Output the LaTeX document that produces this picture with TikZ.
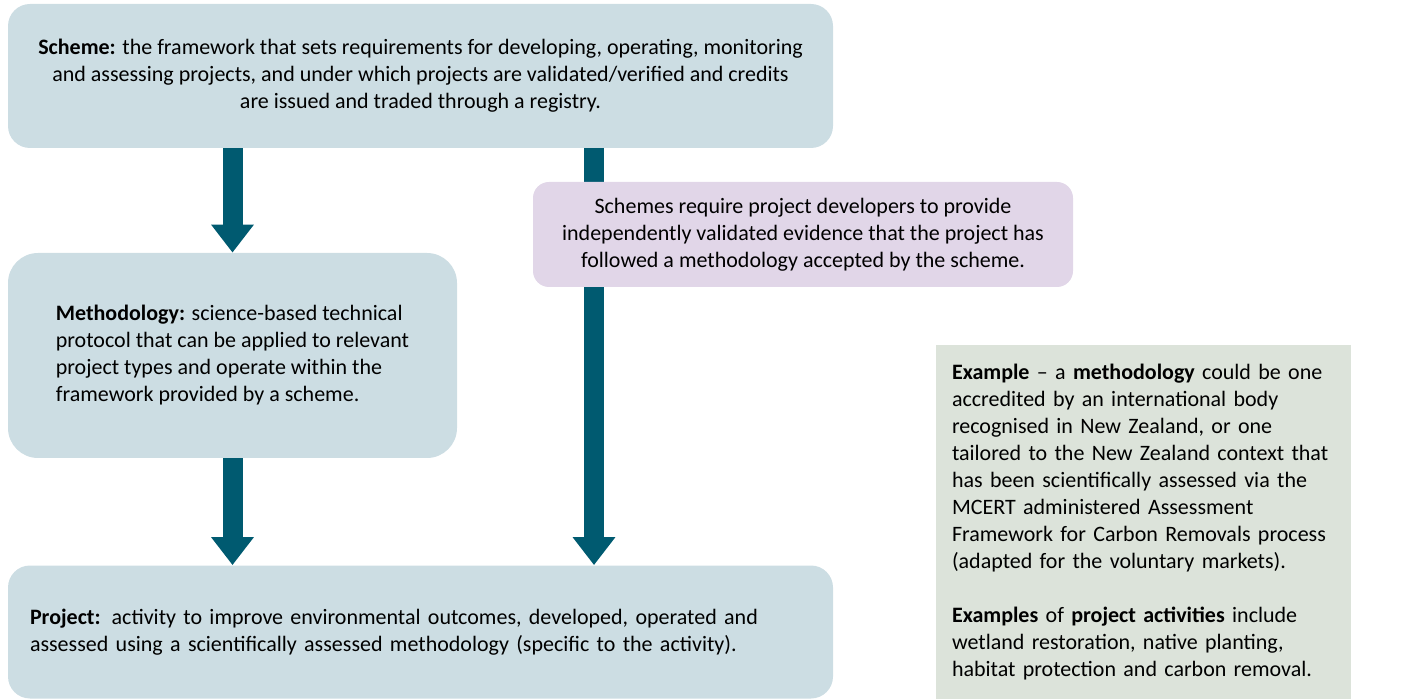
\documentclass[tikz,border=0pt]{standalone}
\usepackage{fontspec}
\setmainfont{Carlito}
\usetikzlibrary{positioning,arrows.meta}
\definecolor{boxblue}{HTML}{CCDDE3}
\definecolor{arrowteal}{HTML}{005A70}
\definecolor{notepurple}{HTML}{E1D6E8}
\definecolor{examplegreen}{HTML}{DCE3DA}

\begin{document}
\begin{tikzpicture}[x=0.5pt, y=-0.5pt,
    font=\fontsize{11pt}{13.5pt}\selectfont,
    box/.style={rectangle, rounded corners=11pt, fill=boxblue, inner sep=0pt, align=center},
    note/.style={rectangle, rounded corners=8pt, fill=notepurple, inner sep=0pt, align=center},
    flow/.style={draw=arrowteal, line width=10pt, -{Triangle[width=20.5pt,length=14pt]}}]
    \useasboundingbox (0,0) rectangle (1402,699);

    \node [box, minimum width=412.5pt, minimum height=72pt] (scheme) at (420.5,76)
      {\textbf{Scheme:} the framework that sets requirements for developing, operating, monitoring\\
       and assessing projects, and under which projects are validated/verified and credits\\
       are issued and traded through a registry.};
    \node [box, align=left, rounded corners=15pt, minimum width=224.5pt, minimum height=102.5pt] (method) at (232.5,355.5)
      {\textbf{Methodology:} science-based technical\\
       protocol that can be applied to relevant\\
       project types and operate within the\\
       framework provided by a scheme.};
    \node [box, align=left, inner xsep=11pt, text width=390.5pt, minimum height=66.5pt] (project) at (420.5,632)
      {\textbf{Project:} activity to improve environmental outcomes, developed, operated and\\
       assessed using a scientifically assessed methodology (specific to the activity).};

    % arrows
    \coordinate (rtop) at (594,148);
    \draw [flow] (method.north |- scheme.south) -- (method.north);
    \draw [flow] (method.south) -- (method.south |- project.north);
    \draw [flow] (rtop) -- (rtop |- project.north);

    \node [note, minimum width=270pt, minimum height=52.5pt] (req) at (803,234.5)
      {Schemes require project developers to provide\\
       independently validated evidence that the project has\\
       followed a methodology accepted by the scheme.};

    \node [rectangle, fill=examplegreen, align=left, inner xsep=8pt, inner ysep=0pt,
           text width=191.5pt, minimum height=177pt] (example) at (1143.5,522)
      {\textbf{Example} -- a \textbf{methodology} could be one\\
       accredited by an international body\\
       recognised in New Zealand, or one\\
       tailored to the New Zealand context that\\
       has been scientifically assessed via the\\
       MCERT administered Assessment\\
       Framework for Carbon Removals process\\
       (adapted for the voluntary markets).\\[13.5pt]
       \textbf{Examples} of \textbf{project activities} include\\
       wetland restoration, native planting,\\
       habitat protection and carbon removal.};
\end{tikzpicture}
\end{document}
